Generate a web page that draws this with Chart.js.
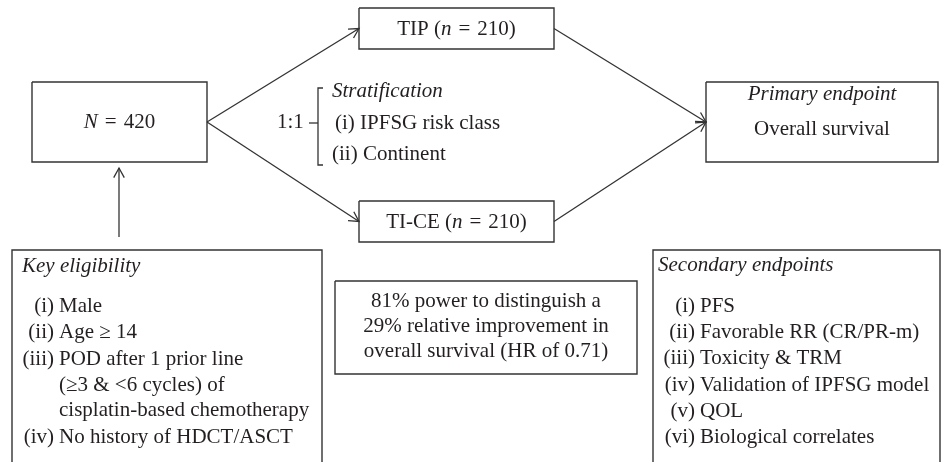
<!DOCTYPE html>
<html>
<head>
<meta charset="utf-8">
<script src="https://cdn.jsdelivr.net/npm/chart.js@4.4.1/dist/chart.umd.min.js"></script>
<style>
  html, body { margin: 0; padding: 0; background: #fff; }
  #wrap { width: 945px; height: 462px; position: relative; }
</style>
</head>
<body>
<div id="wrap"><canvas id="flow"></canvas></div>
<script>
// ---- data ----
const totalN = 420;
const armNames = ['TIP', 'TI-CE'];
const armSizes = [210, 210];
const allocationRatio = '1:1';
const stratificationTitle = 'Stratification';
const stratificationFactors = ['IPFSG risk class', 'Continent'];
const primaryTitle = 'Primary endpoint';
const primaryEndpoint = 'Overall survival';
const eligibilityTitle = 'Key eligibility';
const eligibilityCriteria = [
    ['Male'],
    ['Age \u2265 14'],
    ['POD after 1 prior line', '(\u22653 & <6 cycles) of', 'cisplatin-based chemotherapy'],
    ['No history of HDCT/ASCT']
];
const powerStatement = ['81% power to distinguish a', '29% relative improvement in', 'overall survival (HR of 0.71)'];
const secondaryTitle = 'Secondary endpoints';
const secondaryEndpoints = ['PFS', 'Favorable RR (CR/PR-m)', 'Toxicity & TRM', 'Validation of IPFSG model', 'QOL', 'Biological correlates'];
const numerals = ['i', 'ii', 'iii', 'iv', 'v', 'vi'];

// ---- layout (diagram units, same as the 945x462 picture) ----
const boxes = {
    total:     { x0: 32,  y0: 82,  x1: 207, y1: 162 },
    arm0:      { x0: 359, y0: 8,   x1: 554, y1: 49 },
    arm1:      { x0: 359, y0: 201, x1: 554, y1: 242 },
    primary:   { x0: 706, y0: 82,  x1: 938, y1: 162 },
    elig:      { x0: 12,  y0: 250, x1: 322, y1: 480, open: true },
    power:     { x0: 335, y0: 281, x1: 637, y1: 374 },
    secondary: { x0: 653, y0: 250, x1: 940, y1: 480, open: true }
};
const midY = b => (b.y0 + b.y1) / 2;

const LINE = '#333333';
const TEXT = '#231f20';
const FONT = '"Liberation Serif", "Times New Roman", serif';
const SIZE = 21;
const EQ = '\u2004=\u2004';

function boxPoints(b) {
    if (b.open) return [{x: b.x0, y: b.y1}, {x: b.x0, y: b.y0}, {x: b.x1, y: b.y0}, {x: b.x1, y: b.y1}];
    return [{x: b.x0, y: b.y0}, {x: b.x1, y: b.y0}, {x: b.x1, y: b.y1}, {x: b.x0, y: b.y1}, {x: b.x0, y: b.y0}];
}

const datasets = [];
Object.keys(boxes).forEach(k => {
    datasets.push({ data: boxPoints(boxes[k]), borderWidth: 1.4 });
});
// randomisation arrows
[boxes.arm0, boxes.arm1].forEach(a => {
    datasets.push({ data: [{x: boxes.total.x1, y: midY(boxes.total)}, {x: a.x0, y: midY(a)}], arrow: true });
    datasets.push({ data: [{x: a.x1, y: midY(a)}, {x: boxes.primary.x0, y: midY(boxes.primary)}], arrow: true });
});
// eligibility feeds into the population
datasets.push({ data: [{x: 119, y: 237}, {x: 119, y: boxes.total.y1 + 6}], arrow: true });
// stratification bracket and tick
datasets.push({ data: [{x: 323, y: 88}, {x: 318, y: 88}, {x: 318, y: 165}, {x: 323, y: 165}] });
datasets.push({ data: [{x: 309, y: 123}, {x: 318, y: 123}] });

datasets.forEach(d => {
    d.showLine = true;
    d.pointRadius = 0;
    d.borderColor = LINE;
    d.borderWidth = d.borderWidth || 1.3;
    d.fill = false;
    d.tension = 0;
});

function font(italic) {
    return (italic ? 'italic ' : '') + SIZE + 'px ' + FONT;
}

// segments: [[text, italic], ...]
function drawRich(ctx, segs, x, y, align) {
    let w = 0;
    segs.forEach(s => { ctx.font = font(s[1]); w += ctx.measureText(s[0]).width; });
    let cx = align === 'center' ? x - w / 2 : x;
    ctx.textAlign = 'left';
    segs.forEach(s => {
        ctx.font = font(s[1]);
        ctx.fillText(s[0], cx, y);
        cx += ctx.measureText(s[0]).width;
    });
}

function drawList(ctx, sx, sy, items, numEnd, textX, baselines) {
    let li = 0;
    items.forEach((lines, i) => {
        lines.forEach((line, j) => {
            const y = sy(baselines[li++]);
            ctx.font = font(false);
            if (j === 0) {
                ctx.textAlign = 'right';
                ctx.fillText('(' + numerals[i] + ')', sx(numEnd), y);
            }
            ctx.textAlign = 'left';
            ctx.fillText(line, sx(textX), y);
        });
    });
}

const arrowPlugin = {
    id: 'arrows',
    afterDatasetsDraw(chart) {
        const ctx = chart.ctx;
        ctx.save();
        ctx.strokeStyle = LINE;
        ctx.lineWidth = 1.3;
        chart.data.datasets.forEach((d, i) => {
            if (!d.arrow) return;
            const pts = chart.getDatasetMeta(i).data;
            const p1 = pts[pts.length - 2], p2 = pts[pts.length - 1];
            const ang = Math.atan2(p2.y - p1.y, p2.x - p1.x);
            const len = 11, spread = 0.5;
            ctx.beginPath();
            ctx.moveTo(p2.x - len * Math.cos(ang - spread), p2.y - len * Math.sin(ang - spread));
            ctx.lineTo(p2.x, p2.y);
            ctx.lineTo(p2.x - len * Math.cos(ang + spread), p2.y - len * Math.sin(ang + spread));
            ctx.stroke();
        });
        ctx.restore();
    }
};

const labelPlugin = {
    id: 'labels',
    afterDraw(chart) {
        const ctx = chart.ctx;
        const sx = v => chart.scales.x.getPixelForValue(v);
        const sy = v => chart.scales.y.getPixelForValue(v);
        const cx = b => sx((b.x0 + b.x1) / 2);
        ctx.save();
        ctx.fillStyle = TEXT;
        ctx.textBaseline = 'alphabetic';

        drawRich(ctx, [['N', true], [EQ + totalN, false]], cx(boxes.total), sy(128), 'center');
        drawRich(ctx, [[armNames[0] + ' (', false], ['n', true], [EQ + armSizes[0] + ')', false]], cx(boxes.arm0), sy(35), 'center');
        drawRich(ctx, [[armNames[1] + ' (', false], ['n', true], [EQ + armSizes[1] + ')', false]], cx(boxes.arm1), sy(228), 'center');
        drawRich(ctx, [[primaryTitle, true]], cx(boxes.primary), sy(100), 'center');
        drawRich(ctx, [[primaryEndpoint, false]], cx(boxes.primary), sy(135), 'center');

        // allocation + stratification
        drawRich(ctx, [[allocationRatio, false]], sx(277), sy(128), 'left');
        drawRich(ctx, [[stratificationTitle, true]], sx(332), sy(97), 'left');
        drawRich(ctx, [['(i) ' + stratificationFactors[0], false]], sx(335), sy(129), 'left');
        drawRich(ctx, [['(ii) ' + stratificationFactors[1], false]], sx(332), sy(160), 'left');

        // power statement
        const py = [307, 332, 357];
        powerStatement.forEach((t, i) => drawRich(ctx, [[t, false]], cx(boxes.power), sy(py[i]), 'center'));

        // eligibility list
        drawRich(ctx, [[eligibilityTitle, true]], sx(22), sy(272), 'left');
        drawList(ctx, sx, sy, eligibilityCriteria, 54, 59, [312, 338, 365, 391, 416, 443]);

        // secondary endpoints
        drawRich(ctx, [[secondaryTitle, true]], sx(658), sy(271), 'left');
        drawList(ctx, sx, sy, secondaryEndpoints.map(s => [s]), 695, 700, [312, 338, 364, 391, 417, 443]);

        ctx.restore();
    }
};

new Chart(document.getElementById('flow'), {
    type: 'scatter',
    data: { datasets: datasets },
    options: {
        responsive: true,
        maintainAspectRatio: false,
        animation: false,
        events: [],
        layout: { padding: 0 },
        plugins: { legend: { display: false }, tooltip: { enabled: false } },
        scales: {
            x: { type: 'linear', min: 0, max: 945, display: false },
            y: { type: 'linear', min: 0, max: 462, reverse: true, display: false }
        }
    },
    plugins: [arrowPlugin, labelPlugin]
});
</script>
</body>
</html>
